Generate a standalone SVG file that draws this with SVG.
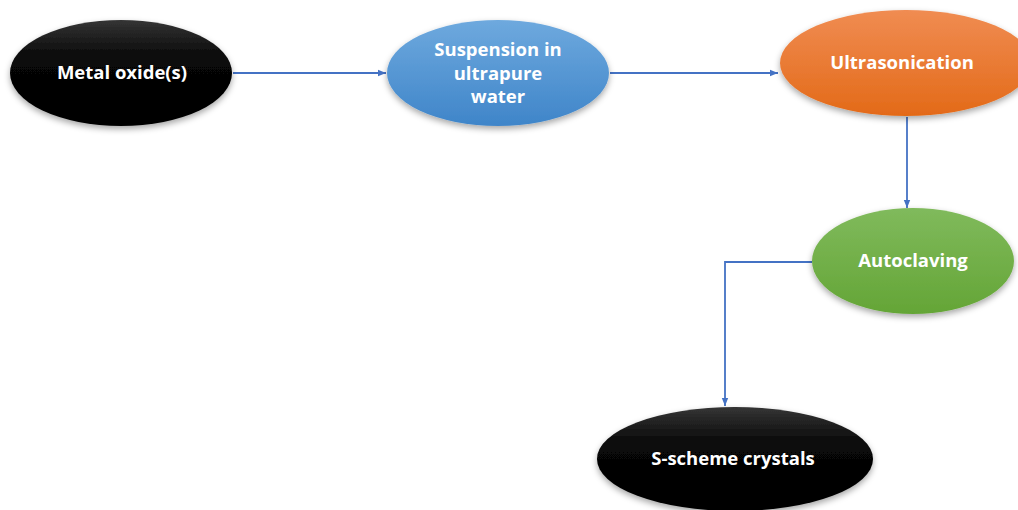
<svg xmlns="http://www.w3.org/2000/svg" width="1018" height="510" viewBox="0 0 1018 510">
<style>
.lbl{font-family:"Open Sans","Noto Sans","Liberation Sans",sans-serif;font-weight:bold;font-size:18.5px;fill:#fff;text-anchor:middle}
.conn{fill:none;stroke:#4472C4;stroke-width:1.8}
</style>
<defs>
<linearGradient id="gBlack" x1="0" y1="0" x2="0" y2="1"><stop offset="0" stop-color="#353535"/><stop offset="0.35" stop-color="#080808"/><stop offset="1" stop-color="#000"/></linearGradient>
<linearGradient id="gBlue" x1="0" y1="0" x2="0" y2="1"><stop offset="0" stop-color="#6ea9de"/><stop offset="1" stop-color="#3f85c9"/></linearGradient>
<linearGradient id="gOrange" x1="0" y1="0" x2="0" y2="1"><stop offset="0" stop-color="#f08c52"/><stop offset="1" stop-color="#e36a18"/></linearGradient>
<linearGradient id="gGreen" x1="0" y1="0" x2="0" y2="1"><stop offset="0" stop-color="#80ba5c"/><stop offset="1" stop-color="#64a536"/></linearGradient>
<filter id="sh" x="-20%" y="-20%" width="140%" height="150%"><feDropShadow dx="0" dy="3" stdDeviation="3" flood-color="#000" flood-opacity="0.35"/></filter>
<marker id="arr" viewBox="0 0 10 10" refX="10" refY="5" markerWidth="4.5" markerHeight="4.5" orient="auto" markerUnits="strokeWidth"><path d="M0,1 L10,5 L0,9 z" fill="#4472C4"/></marker>
</defs>
<rect width="1018" height="510" fill="#fff"/>
<g id="connectors">
<line class="conn" x1="233" y1="73" x2="386" y2="73" marker-end="url(#arr)"/>
<line class="conn" x1="610" y1="73" x2="778" y2="73" marker-end="url(#arr)"/>
<line class="conn" x1="907" y1="117" x2="907" y2="208" marker-end="url(#arr)"/>
<polyline class="conn" points="812,262 725,262 725,406" marker-end="url(#arr)"/>
</g>
<g id="node-metal-oxide">
<ellipse cx="121" cy="73" rx="111" ry="53" fill="url(#gBlack)" filter="url(#sh)"/>
<text class="lbl" x="122" y="79">Metal oxide(s)</text>
</g>
<g id="node-suspension">
<ellipse cx="498" cy="73" rx="111" ry="53" fill="url(#gBlue)" filter="url(#sh)"/>
<text class="lbl" x="498" y="56">Suspension in</text>
<text class="lbl" x="498" y="80">ultrapure</text>
<text class="lbl" x="498" y="103">water</text>
</g>
<g id="node-ultrasonication">
<ellipse cx="906" cy="63" rx="126" ry="53" fill="url(#gOrange)" filter="url(#sh)"/>
<text class="lbl" x="902" y="69">Ultrasonication</text>
</g>
<g id="node-autoclaving">
<ellipse cx="913" cy="261" rx="101" ry="53" fill="url(#gGreen)" filter="url(#sh)"/>
<text class="lbl" x="913" y="267">Autoclaving</text>
</g>
<g id="node-s-scheme">
<ellipse cx="735" cy="459" rx="138" ry="52" fill="url(#gBlack)" filter="url(#sh)"/>
<text class="lbl" x="733" y="465">S-scheme crystals</text>
</g>
</svg>
